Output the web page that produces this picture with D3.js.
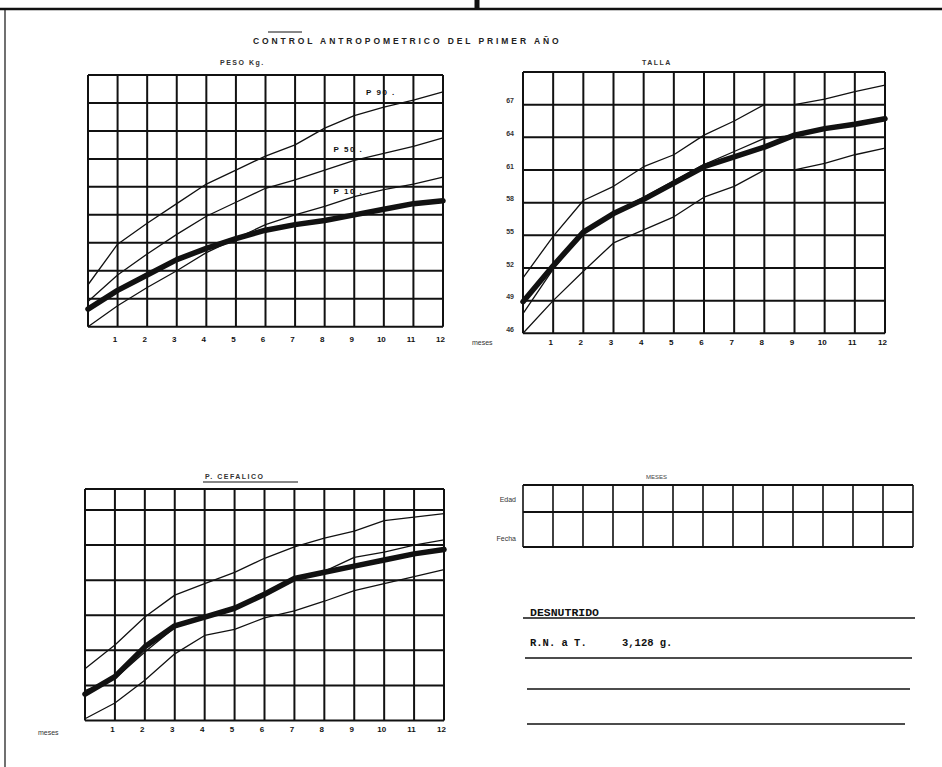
<!DOCTYPE html>
<html>
<head>
<meta charset="utf-8">
<script src="https://cdn.jsdelivr.net/npm/d3@7"></script>
<style>
  html, body { margin: 0; padding: 0; background: #fff; }
  svg { display: block; }
</style>
</head>
<body>
<svg id="hoja" width="942" height="767"></svg>
<script>
// Edad en meses (eje horizontal común a las tres curvas)
const meses = [0, 1, 2, 3, 4, 5, 6, 7, 8, 9, 10, 11, 12];
const etiquetasMeses = ["1", "2", "3", "4", "5", "6", "7", "8", "9", "10", "11", "12"];

// PESO (kg): paciente y percentiles de referencia
const pesoPaciente = [3.128, 3.8, 4.35, 4.9, 5.3, 5.65, 5.95, 6.15, 6.3, 6.5, 6.7, 6.9, 7.0];
const pesoP90 = [4.0, 5.45, 6.2, 6.9, 7.6, 8.1, 8.6, 9.0, 9.6, 10.05, 10.35, 10.6, 10.9];
const pesoP50 = [3.4, 4.35, 5.1, 5.8, 6.45, 6.95, 7.45, 7.75, 8.1, 8.45, 8.7, 8.95, 9.25];
const pesoP10 = [2.5, 3.25, 3.9, 4.5, 5.15, 5.65, 6.15, 6.5, 6.8, 7.15, 7.4, 7.6, 7.85];
const pesoRejilla = [2.5, 3.5, 4.5, 5.5, 6.5, 7.5, 8.5, 9.5, 10.5, 11.5];
const nombresPercentiles = ["P 90", "P 50", "P 10"];

// TALLA (cm)
const tallaPaciente = [48.9, 52.2, 55.3, 57.0, 58.3, 59.8, 61.3, 62.2, 63.1, 64.2, 64.8, 65.2, 65.7];
const tallaP90 = [51.1, 54.9, 58.2, 59.5, 61.3, 62.4, 64.2, 65.5, 67.0, 67.0, 67.5, 68.2, 68.8];
const tallaP50 = [47.8, 51.9, 55.3, 57.1, 58.5, 60.0, 61.5, 62.7, 63.9, 64.2, 64.8, 65.3, 65.7];
const tallaP10 = [46.0, 49.0, 51.7, 54.3, 55.5, 56.7, 58.5, 59.5, 61.0, 61.0, 61.6, 62.4, 63.0];
const tallaRejilla = [46, 49, 52, 55, 58, 61, 64, 67, 70];
const tallaEtiquetas = [46, 49, 52, 55, 58, 61, 64, 67];

// PERIMETRO CEFALICO (cm)
const cefPaciente = [33.5, 34.5, 36.2, 37.4, 37.9, 38.4, 39.2, 40.1, 40.45, 40.8, 41.15, 41.5, 41.75];
const cefP90 = [34.95, 36.3, 37.9, 39.15, 39.8, 40.45, 41.25, 41.9, 42.4, 42.8, 43.4, 43.6, 43.8];
const cefP50 = [33.7, 34.4, 35.9, 37.3, 37.9, 38.5, 39.2, 40.0, 40.5, 41.3, 41.6, 42.0, 42.3];
const cefP10 = [32.1, 33.0, 34.3, 35.8, 36.85, 37.2, 37.85, 38.25, 38.8, 39.4, 39.8, 40.2, 40.6];
const cefRejilla = [32, 34, 36, 38, 40, 42, 44, 45.2];

// Cuadro de registro y datos del recién nacido
const filasCuadro = ["Edad", "Fecha"];
const columnasCuadro = d3.range(13);
const diagnostico = "DESNUTRIDO";
const datoNacimiento = "R.N. a T.";
const pesoNacimiento = "3,128 g.";

const svg = d3.select("#hoja");
const tinta = "#111";
const fuente = "'Liberation Sans', Arial, sans-serif";
const fuenteMaquina = "'Liberation Mono', 'DejaVu Sans Mono', monospace";

// valor de una curva en un mes no entero
function valorEn(curva, mes) {
  const i = Math.floor(mes), t = mes - i;
  return curva[i] + (curva[Math.min(i + 1, 12)] - curva[i]) * t;
}

// Dibuja una gráfica cuadriculada con sus curvas
function grafica(cfg) {
  const x = d3.scaleLinear().domain([0, 12]).range([cfg.x0, cfg.x1]);
  const y = d3.scaleLinear().domain(cfg.dominio).range([cfg.yb, cfg.yt]);
  const g = svg.append("g");

  // rejilla
  g.selectAll("line.v").data(meses).join("line")
    .attr("x1", d => x(d)).attr("x2", d => x(d))
    .attr("y1", y(cfg.dominio[0])).attr("y2", y(cfg.dominio[1]))
    .attr("stroke", tinta).attr("stroke-width", 2);
  g.selectAll("line.h").data(cfg.rejilla).join("line")
    .attr("x1", x(0)).attr("x2", x(12))
    .attr("y1", d => y(d)).attr("y2", d => y(d))
    .attr("stroke", tinta).attr("stroke-width", 2);

  const linea = d3.line().x((d, i) => x(meses[i])).y(d => y(d));

  // percentiles de referencia
  g.selectAll("path.ref").data(cfg.referencias).join("path")
    .attr("d", d => linea(d))
    .attr("fill", "none").attr("stroke", tinta).attr("stroke-width", 1.3)
    .attr("stroke-linejoin", "round");

  // curva del paciente
  g.append("path").attr("d", linea(cfg.paciente))
    .attr("fill", "none").attr("stroke", tinta).attr("stroke-width", 5.5)
    .attr("stroke-linejoin", "round").attr("stroke-linecap", "round");

  // meses
  const ejeX = d3.axisBottom(x).tickValues(d3.range(1, 13))
    .tickFormat((d, i) => etiquetasMeses[i]).tickSize(0).tickPadding(cfg.padX);
  const gx = g.append("g").attr("transform", `translate(-3,${cfg.yb})`).call(ejeX);
  gx.select(".domain").remove();
  gx.selectAll("text").attr("font-family", fuente).attr("font-size", 8)
    .attr("font-weight", "bold").attr("fill", tinta);

  if (cfg.mesesX !== null) {
    g.append("text").attr("x", cfg.mesesX).attr("y", cfg.yb + cfg.padX + 8)
      .attr("font-family", fuente).attr("font-size", 7).attr("fill", "#333")
      .text("meses");
  }

  g.append("text").attr("x", cfg.tituloX).attr("y", cfg.tituloY)
    .attr("font-family", fuente).attr("font-size", 7).attr("font-weight", "bold")
    .attr("letter-spacing", 1.5).attr("fill", "#333").text(cfg.titulo);

  return { g, x, y };
}

// encabezado de la hoja
svg.append("line").attr("x1", 0).attr("x2", 942).attr("y1", 9).attr("y2", 9)
  .attr("stroke", tinta).attr("stroke-width", 2.5);
svg.append("line").attr("x1", 477).attr("x2", 477).attr("y1", 0).attr("y2", 9)
  .attr("stroke", tinta).attr("stroke-width", 5);
svg.append("line").attr("x1", 5).attr("x2", 5).attr("y1", 9).attr("y2", 767)
  .attr("stroke", tinta).attr("stroke-width", 1.2);
svg.append("line").attr("x1", 268).attr("x2", 302).attr("y1", 32).attr("y2", 32)
  .attr("stroke", tinta).attr("stroke-width", 1);
svg.append("text").attr("x", 253).attr("y", 44)
  .attr("font-family", fuente).attr("font-size", 8.5).attr("font-weight", "bold")
  .attr("letter-spacing", 2.9).attr("fill", "#222")
  .text("CONTROL  ANTROPOMETRICO  DEL  PRIMER  AÑO");

// PESO
const peso = grafica({
  x0: 88, x1: 443, yt: 75, yb: 326.7, dominio: [2.5, 11.5], rejilla: pesoRejilla,
  paciente: pesoPaciente, referencias: [pesoP90, pesoP50, pesoP10],
  padX: 10, mesesX: 472, titulo: "PESO    Kg.", tituloX: 220, tituloY: 65
});
const marcas = [
  { curva: pesoP90, mes: 9.4, dy: -17 },
  { curva: pesoP50, mes: 8.3, dy: -15 },
  { curva: pesoP10, mes: 8.3, dy: -10 }
];
peso.g.selectAll("text.p").data(marcas).join("text")
  .attr("x", d => peso.x(d.mes))
  .attr("y", d => peso.y(valorEn(d.curva, d.mes)) + d.dy)
  .attr("font-family", fuente).attr("font-size", 8).attr("font-weight", "bold")
  .attr("letter-spacing", 1.5).attr("fill", tinta)
  .text((d, i) => nombresPercentiles[i] + " .");

// TALLA
const talla = grafica({
  x0: 523, x1: 885, yt: 72, yb: 333.3, dominio: [46, 70], rejilla: tallaRejilla,
  paciente: tallaPaciente, referencias: [tallaP90, tallaP50, tallaP10],
  padX: 6, mesesX: null, titulo: "TALLA", tituloX: 642, tituloY: 65
});
const ejeY = d3.axisLeft(talla.y).tickValues(tallaEtiquetas).tickSize(0).tickPadding(9);
const gy = talla.g.append("g").attr("transform", `translate(${talla.x(0)},-4)`).call(ejeY);
gy.select(".domain").remove();
gy.selectAll("text").attr("font-family", fuente).attr("font-size", 7)
  .attr("font-weight", "bold").attr("fill", "#333");

// PERIMETRO CEFALICO
const cef = grafica({
  x0: 85, x1: 444, yt: 489, yb: 720.5, dominio: [32, 45.2], rejilla: cefRejilla,
  paciente: cefPaciente, referencias: [cefP90, cefP50, cefP10],
  padX: 6, mesesX: 38, titulo: "P. CEFALICO", tituloX: 205, tituloY: 479
});
svg.append("line").attr("x1", 203).attr("x2", 298).attr("y1", 482).attr("y2", 482)
  .attr("stroke", tinta).attr("stroke-width", 1.2);

// cuadro de registro
const cx = d3.scaleBand().domain(columnasCuadro).range([523, 913]);
const cuadro = svg.append("g");
cuadro.selectAll("line.c").data(d3.range(14)).join("line")
  .attr("x1", d => 523 + d * cx.bandwidth()).attr("x2", d => 523 + d * cx.bandwidth())
  .attr("y1", 485).attr("y2", 547).attr("stroke", tinta).attr("stroke-width", 1.6);
cuadro.selectAll("line.f").data([485, 512, 547]).join("line")
  .attr("x1", 523).attr("x2", 913).attr("y1", d => d).attr("y2", d => d)
  .attr("stroke", tinta).attr("stroke-width", 1.8);
cuadro.selectAll("text.f").data(filasCuadro).join("text")
  .attr("x", 516).attr("y", (d, i) => [502, 541][i]).attr("text-anchor", "end")
  .attr("font-family", fuente).attr("font-size", 7).attr("fill", "#333").text(d => d);
cuadro.append("text").attr("x", 646).attr("y", 479)
  .attr("font-family", fuente).attr("font-size", 6).attr("fill", "#444").text("MESES");

// diagnóstico
svg.append("text").attr("x", 530).attr("y", 616)
  .attr("font-family", fuenteMaquina).attr("font-size", 11.5).attr("font-weight", "bold")
  .attr("fill", tinta).text(diagnostico);
svg.append("text").attr("x", 530).attr("y", 646)
  .attr("font-family", fuenteMaquina).attr("font-size", 10.5).attr("font-weight", "bold")
  .attr("fill", tinta).text(datoNacimiento);
svg.append("text").attr("x", 622).attr("y", 646)
  .attr("font-family", fuenteMaquina).attr("font-size", 10.5).attr("font-weight", "bold")
  .attr("fill", tinta).text(pesoNacimiento);
svg.selectAll("line.r").data([[523, 915, 618], [525, 912, 658], [527, 910, 689], [527, 905, 724]])
  .join("line")
  .attr("x1", d => d[0]).attr("x2", d => d[1]).attr("y1", d => d[2]).attr("y2", d => d[2])
  .attr("stroke", tinta).attr("stroke-width", 1.5);
</script>
</body>
</html>
